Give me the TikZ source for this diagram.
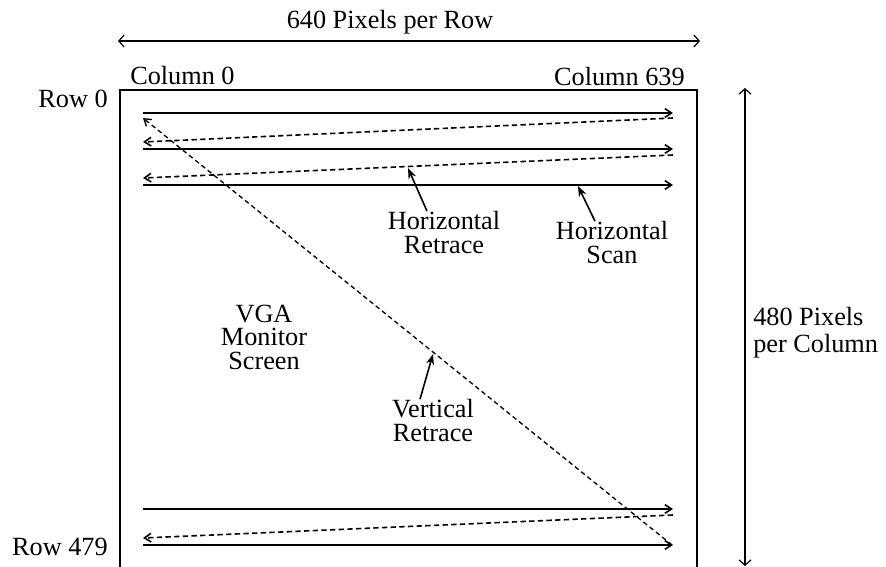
\documentclass[tikz,border=0pt]{standalone}
\usepackage{fontspec}
\setmainfont{Liberation Serif}
\usetikzlibrary{arrows.meta}

\begin{document}
\begin{tikzpicture}[x=0.75pt, y=-0.75pt,
  frame/.style={line width=2.2pt},
  scan/.style={line width=1.2pt, -{Straight Barb[length=5pt, width=6.5pt]}},
  retrace/.style={line width=1.2pt, dash pattern=on 4pt off 2.5pt,
                  -{Straight Barb[length=5pt, width=6.5pt]}},
  vret/.style={line width=1pt, dash pattern=on 3.5pt off 2.5pt,
               -{Straight Barb[length=5pt, width=6.5pt]}},
  dim/.style={line width=0.9pt,
              {Straight Barb[length=4pt, width=9pt]}-{Straight Barb[length=4pt, width=9pt]}},
  ptr/.style={line width=1.2pt, -{Stealth[length=8pt, width=6pt]}},
  lbl/.style={font=\fontsize{19.7}{17.5}\selectfont, inner sep=0pt, align=center},
]
  \useasboundingbox (0,0) rectangle (886,567);

  % screen outline
  \draw[frame] (120,575) -- (120,90) -- (697,90) -- (697,575);

  % dimension arrows
  \coordinate (wl) at (118,41);
  \coordinate (wr) at (700,41);
  \coordinate (ht) at (745,88);
  \coordinate (hb) at (745,566);
  \draw[dim] (wl) -- (wr);
  \draw[dim] (ht) -- (hb);

  \node[lbl, anchor=base] (wlabel) at (390,29) {640 Pixels per Row};
  \node[lbl, anchor=base west, font=\fontsize{19.7}{20}\selectfont, align=left]
    (hlabel) at (753,352) {480 Pixels\\per Column};
  \node[lbl, anchor=base west] (col0) at (130,85) {Column 0};
  \node[lbl, anchor=base east] (col639) at (685,86) {Column 639};
  \node[lbl, anchor=base east] (row0) at (108,108) {Row 0};
  \node[lbl, anchor=base east] (row479) at (108,555) {Row 479};

  % scan lines
  \coordinate (s1l) at (143,113);  \coordinate (s1r) at (673,113);
  \coordinate (s2l) at (143,149);  \coordinate (s2r) at (673,149);
  \coordinate (s3l) at (143,185);  \coordinate (s3r) at (673,185);
  \coordinate (s4l) at (143,509);  \coordinate (s4r) at (673,509);
  \coordinate (s5l) at (143,545);  \coordinate (s5r) at (673,545);
  \draw[scan] (s1l) -- (s1r);
  \draw[scan] (s2l) -- (s2r);
  \draw[scan] (s3l) -- (s3r);
  \draw[scan] (s4l) -- (s4r);
  \draw[scan] (s5l) -- (s5r);

  % horizontal retraces
  \coordinate (r1r) at (673,118);  \coordinate (r1l) at (143,142);
  \coordinate (r2r) at (673,155);  \coordinate (r2l) at (143,178);
  \coordinate (r3r) at (673,515);  \coordinate (r3l) at (143,538);
  \draw[retrace] (r1r) -- (r1l);
  \draw[retrace] (r2r) -- (r2l);
  \draw[retrace] (r3r) -- (r3l);

  % vertical retrace
  \coordinate (vb) at (672,545);
  \coordinate (vt) at (143,118);
  \draw[vret] (vb) -- (vt);

  % labels
  \node[lbl, anchor=base] (screen) at (264,369) {VGA\\Monitor\\Screen};
  \node[lbl, anchor=base] (hret) at (444,253) {Horizontal\\Retrace};
  \node[lbl, anchor=base] (hscan) at (612,263) {Horizontal\\Scan};
  \node[lbl, anchor=base] (vretlbl) at (433,441) {Vertical\\Retrace};

  \coordinate (hretp) at (408,168);
  \coordinate (hscanp) at (578,186);
  \coordinate (vretp) at (433,354);
  \draw[ptr] ([xshift=-12.75pt]hret.north) -- (hretp);
  \draw[ptr] ([xshift=-12.75pt]hscan.north) -- (hscanp);
  \draw[ptr] ([xshift=-9.75pt]vretlbl.north) -- (vretp);
\end{tikzpicture}
\end{document}
